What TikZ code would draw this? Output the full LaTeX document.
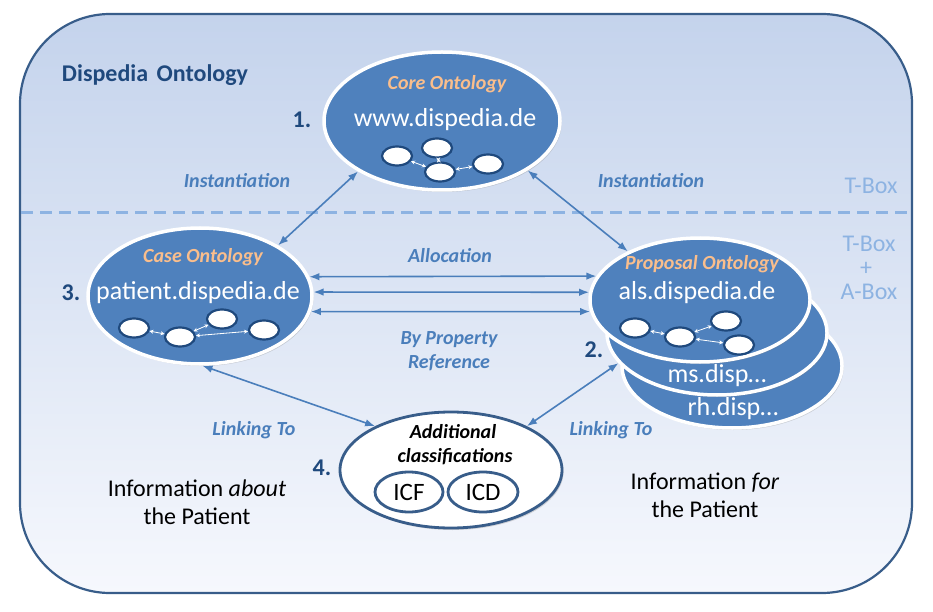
\documentclass[tikz,border=0pt]{standalone}
\usepackage{fontspec}
\setmainfont{Carlito}
\usepackage{tikz}
\usetikzlibrary{shapes.geometric,arrows.meta,shadows}
\definecolor{ontoblue}{RGB}{79,129,189}
\definecolor{framecol}{RGB}{56,93,138}
\definecolor{navy}{RGB}{31,73,125}
\definecolor{dashcol}{RGB}{141,179,226}
\definecolor{linkcol}{RGB}{74,126,187}
\definecolor{peach}{RGB}{250,190,140}
\definecolor{bgtop}{RGB}{196,211,236}
\definecolor{bgbot}{RGB}{246,248,253}
\newcommand{\fsz}[2]{\fontsize{#1}{#2}\selectfont}

\begin{document}
\begin{tikzpicture}[x=1pt,y=-1pt,
  onto/.style={ellipse,draw=white,line width=3.5pt,fill=ontoblue,minimum width=220pt,minimum height=124pt,
    drop shadow={opacity=.3,shadow xshift=1.5pt,shadow yshift=-2pt}},
  inst/.style={ellipse,draw=navy,line width=2.2pt,fill=white,minimum width=30pt,minimum height=19pt,inner sep=0pt},
  rel/.style={white,line width=.8pt,{Stealth[length=4pt,width=4pt]}-{Stealth[length=4pt,width=4pt]}},
  link/.style={linkcol,line width=1.6pt,{Latex[length=10pt,width=7.5pt]}-{Latex[length=10pt,width=7.5pt]}},
  lbl/.style={text=linkcol,font=\fsz{20}{24}\bfseries\itshape,align=center},
  ontoname/.style={text=peach,font=\fsz{20}{24}\bfseries\itshape},
  ontourl/.style={text=white,font=\fsz{26}{28}},
  num/.style={text=navy,font=\fsz{24}{26}\bfseries},
  boxlbl/.style={text=dashcol,font=\fsz{24}{26}},
  info/.style={font=\fsz{24}{28},align=center}]
\path[use as bounding box] (0,0) rectangle (933,612);
% frame and T-Box line
\draw[framecol,line width=2.2pt,rounded corners=90pt,top color=bgtop,bottom color=bgbot] (20,14) rectangle (912,593);
\draw[dashcol,line width=3pt,dash pattern=on 12pt off 7pt] (21,213) -- (911,213);
\node[text=navy,font=\fsz{24}{26}\bfseries] (dispedia) at (155,75) {Dispedia\hspace{3pt} Ontology};
\node[boxlbl] (tbox) at (871,186) {T-Box};
\node[boxlbl,align=center] (tabox) at (869,268) {T-Box\\[-2pt]\hspace*{-6pt}+\\[-2pt]A-Box};

% ontologies
\node[onto] (rh) at (732,366) {};
\node[onto] (ms) at (717,333) {};
\node[onto] (prop) at (700,300) {};
\node[onto,minimum width=236pt,minimum height=138pt] (core) at (442,121) {};
\node[onto,minimum width=224pt,minimum height=136pt] (casee) at (200,296) {};
\node[ellipse,draw=framecol,line width=2.8pt,fill=white,minimum width=222pt,minimum height=116pt,
  drop shadow={opacity=.3,shadow xshift=1.5pt,shadow yshift=-2pt}] (add) at (451,470) {};

\node[ontoname] (corename) at (447,84) {Core Ontology};
\node[ontourl] (coreurl) at (445,120) {www.dispedia.de};
\node[ontoname] (casename) at (203,257) {Case Ontology};
\node[ontourl] (caseurl) at (198,293) {patient.dispedia.de};
\node[ontoname] (propname) at (702,264) {Proposal Ontology};
\node[ontourl] (propurl) at (697,293) {als.dispedia.de};
\node[ontourl] (msurl) at (717,376) {ms.disp…};
\node[ontourl] (rhurl) at (733,409) {rh.disp…};

\node[font=\fsz{20}{24}\bfseries\itshape] (addname) at (453,432) {Additional};
\node[font=\fsz{20}{24}\bfseries\itshape] (addname2) at (455,457) {classifications};
\node[ellipse,draw=framecol,line width=2.8pt,minimum width=68pt,minimum height=40pt,font=\fsz{25}{26}] (icf) at (409,492) {ICF};
\node[ellipse,draw=framecol,line width=2.8pt,minimum width=70pt,minimum height=40pt,font=\fsz{25}{26}] (icd) at (483,492) {ICD};

% instances
\node[inst] (c1) at (397,156) {};
\node[inst] (c2) at (437,148) {};
\node[inst] (c3) at (440,172) {};
\node[inst] (c4) at (488,164) {};
\draw[rel] (c1) -- (c3);
\draw[rel] (c2) -- (c3);
\draw[rel] (c3) -- (c4);
\node[inst] (k1) at (134,328) {};
\node[inst] (k2) at (180,337) {};
\node[inst] (k3) at (222,319) {};
\node[inst] (k4) at (264,330) {};
\draw[rel] (k1) -- (k2);
\draw[rel] (k2) -- (k3);
\draw[rel] (k2) -- (k4);
\node[inst] (p1) at (635,328) {};
\node[inst] (p2) at (680,337) {};
\node[inst] (p3) at (726,321) {};
\node[inst] (p4) at (739,345) {};
\draw[rel] (p1) -- (p2);
\draw[rel] (p2) -- (p3);
\draw[rel] (p2) -- (p4);

% numbers
\node[num] (n1) at (302,120) {1.};
\node[num] (n2) at (594,350) {2.};
\node[num] (n3) at (71,293) {3.};
\node[num] (n4) at (322,468) {4.};

% relations
\draw[link] (casee.33) -- (core.211);
\draw[link] (core.-30) -- (prop.146);
\draw[link] (casee.10) -- (prop.167);
\draw[link] (casee.2) -- (prop.176);
\draw[link] (casee.-8) -- (prop.186);
\draw[link] (casee.-88) -- (add.150);
\draw[link] (add.30) -- (ms.197);
\node[lbl] (inst1) at (237,181) {Instantiation};
\node[lbl] (inst2) at (651,181) {Instantiation};
\node[lbl] (alloc) at (450,256) {Allocation};
\node[lbl] (byprop) at (449,351) {By Property\\Reference};
\node[lbl] (link1) at (254,430) {Linking To};
\node[lbl] (link2) at (611,430) {Linking To};

\node[info] (about) at (197,502) {Information \textit{about}\\the Patient};
\node[info] (for) at (705,495) {Information \textit{for}\\the Patient};
\end{tikzpicture}
\end{document}
